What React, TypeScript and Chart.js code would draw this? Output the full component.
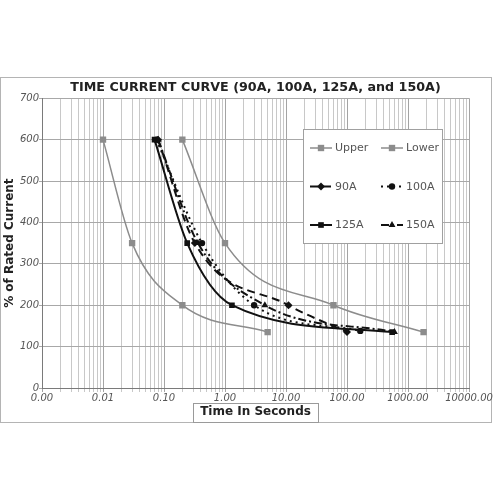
import React, { useEffect, useRef } from 'react';
import { Chart, registerables } from 'chart.js';
import { drawPoint } from 'chart.js/helpers';

Chart.register(...registerables);

// ---------- text ----------
const TITLE = 'TIME CURRENT CURVE (90A, 100A, 125A, and 150A)';
const X_TITLE = 'Time In Seconds';
const Y_TITLE = '% of Rated Current';

// ---------- data (time in seconds, % of rated current) ----------
const SERIES_NAMES = ['Upper', 'Lower', '90A', '100A', '125A', '150A'];

const upperTimes = [0.2, 1, 60, 1800];
const upperPct = [600, 350, 200, 135];

const lowerTimes = [0.01, 0.03, 0.2, 5];
const lowerPct = [600, 350, 200, 135];

const a90Times = [0.08, 0.32, 11, 100];
const a90Pct = [600, 350, 200, 135];

const a100Times = [0.075, 0.42, 3, 165];
const a100Pct = [600, 350, 200, 138];

const a125Times = [0.07, 0.24, 1.3, 550];
const a125Pct = [600, 350, 200, 135];

const a150Times = [0.08, 0.36, 4.5, 600];
const a150Pct = [600, 350, 200, 135];

// ---------- axes ----------
const X_MIN = 0.001;
const X_MAX = 10000;
const X_EXPONENTS = [-3, -2, -1, 0, 1, 2, 3];
const X_MULTIPLIERS = [1, 2, 3, 4, 5, 6, 7, 8, 9];
const Y_MIN = 0;
const Y_MAX = 700;
const Y_STEP = 100;

const GRAY = '#8c8c8c';
const BLACK = '#111111';
const FONT = 'DejaVu Sans';

const toPoints = (xs: number[], ys: number[]) => xs.map((x, i) => ({ x, y: ys[i] }));

const isDecade = (v: number) => {
  const l = Math.log10(v);
  return Math.abs(l - Math.round(l)) < 1e-9;
};

const frameAndBoxPlugin = {
  id: 'frameAndBox',
  beforeDraw(chart: any) {
    const ctx = chart.ctx;
    ctx.save();
    ctx.fillStyle = '#ffffff';
    ctx.fillRect(0, 0, chart.width, chart.height);
    ctx.strokeStyle = '#b4b4b4';
    ctx.lineWidth = 1;
    ctx.strokeRect(0.5, 77.5, 491, 345);
    ctx.restore();
  },
  afterDraw(chart: any) {
    const ctx = chart.ctx;
    const xs = chart.scales.x;
    ctx.save();
    ctx.font = `bold 12px "${FONT}"`;
    const w = ctx.measureText(X_TITLE).width;
    const cx = (xs.left + xs.right) / 2;
    ctx.strokeStyle = '#9a9a9a';
    ctx.lineWidth = 1;
    ctx.strokeRect(Math.round(cx - w / 2 - 7) + 0.5, 403.5, Math.round(w + 14), 19);
    ctx.restore();
  },
};

const legendPlugin = {
  id: 'boxLegend',
  afterDatasetsDraw(chart: any) {
    const ctx = chart.ctx;
    const bx = 303, by = 129, bw = 139, bh = 114;
    ctx.save();
    ctx.fillStyle = '#ffffff';
    ctx.fillRect(bx, by, bw, bh);
    ctx.strokeStyle = '#a0a0a0';
    ctx.lineWidth = 1;
    ctx.strokeRect(bx + 0.5, by + 0.5, bw, bh);
    chart.data.datasets.forEach((ds: any, i: number) => {
      const col = i % 2;
      const row = Math.floor(i / 2);
      const x0 = 310 + col * 71;
      const y0 = 148 + row * 38.5;
      ctx.save();
      ctx.strokeStyle = ds.borderColor;
      ctx.lineWidth = ds.borderWidth;
      ctx.setLineDash(ds.borderDash || []);
      ctx.beginPath();
      ctx.moveTo(x0, y0);
      ctx.lineTo(x0 + 22, y0);
      ctx.stroke();
      ctx.setLineDash([]);
      ctx.fillStyle = ds.pointBackgroundColor;
      ctx.strokeStyle = ds.pointBorderColor;
      drawPoint(ctx, { pointStyle: ds.pointStyle, radius: ds.pointRadius, rotation: 0, borderWidth: 0 } as any, x0 + 11, y0);
      ctx.restore();
      ctx.fillStyle = '#555555';
      ctx.font = `11px "${FONT}"`;
      ctx.textBaseline = 'middle';
      ctx.textAlign = 'left';
      ctx.fillText(ds.label, x0 + 25, y0 + 0.5);
    });
    ctx.restore();
  },
};

function makeDataset(label: string, xs: number[], ys: number[], color: string, width: number, dash: number[], style: string, radius: number) {
  return {
    label,
    data: toPoints(xs, ys),
    borderColor: color,
    backgroundColor: color,
    borderWidth: width,
    borderDash: dash,
    pointStyle: style,
    pointRadius: radius,
    pointHoverRadius: radius,
    pointBackgroundColor: color,
    pointBorderColor: color,
    pointBorderWidth: 0,
    tension: 0.4,
    cubicInterpolationMode: 'monotone',
    fill: false,
  };
}

export default function App() {
  const canvasRef = useRef<HTMLCanvasElement | null>(null);

  useEffect(() => {
    if (!canvasRef.current) return;
    const datasets = [
      makeDataset(SERIES_NAMES[0], upperTimes, upperPct, GRAY, 1.5, [], 'rect', 4.5),
      makeDataset(SERIES_NAMES[1], lowerTimes, lowerPct, GRAY, 1.5, [], 'rect', 4.5),
      makeDataset(SERIES_NAMES[2], a90Times, a90Pct, BLACK, 2, [8, 5], 'rectRot', 4),
      makeDataset(SERIES_NAMES[3], a100Times, a100Pct, BLACK, 2, [2, 4], 'circle', 3.2),
      makeDataset(SERIES_NAMES[4], a125Times, a125Pct, BLACK, 2, [], 'rect', 4),
      makeDataset(SERIES_NAMES[5], a150Times, a150Pct, BLACK, 2, [8, 3, 2, 3], 'triangle', 4),
    ];

    const chart = new Chart(canvasRef.current, {
      type: 'line',
      data: { datasets },
      plugins: [frameAndBoxPlugin, legendPlugin],
      options: {
        responsive: false,
        animation: false,
        layout: { padding: { top: 77, left: 0, right: 31, bottom: 76 } },
        plugins: {
          legend: { display: false },
          tooltip: { enabled: false },
          title: {
            display: true,
            text: TITLE,
            fullSize: false,
            color: '#222222',
            font: { family: FONT, size: 12.7, weight: 'bold', lineHeight: 1.2 },
            padding: { top: 3, bottom: 3 },
          },
        },
        scales: {
          x: {
            type: 'logarithmic',
            min: X_MIN,
            max: X_MAX,
            afterBuildTicks: (scale: any) => {
              const ticks: any[] = [];
              X_EXPONENTS.forEach((e) => {
                X_MULTIPLIERS.forEach((m) => {
                  ticks.push({ value: Number((m * Math.pow(10, e)).toPrecision(6)) });
                });
              });
              ticks.push({ value: X_MAX });
              scale.ticks = ticks;
            },
            afterFit: (scale: any) => {
              scale.height = 36;
            },
            ticks: {
              autoSkip: false,
              maxRotation: 0,
              minRotation: 0,
              padding: 0,
              color: '#555555',
              font: { family: FONT, size: 10, style: 'italic' },
              callback: (v: any) => (isDecade(Number(v)) ? Number(v).toFixed(2) : ''),
            },
            grid: {
              color: (c: any) => (c.tick && isDecade(c.tick.value) ? '#a4a4a4' : '#c8c8c8'),
              tickLength: 4,
              lineWidth: 1,
            },
            border: { color: '#7a7a7a' },
            title: {
              display: true,
              text: X_TITLE,
              color: '#222222',
              font: { family: FONT, size: 12, weight: 'bold', lineHeight: 1.2 },
              padding: { top: 0, bottom: 5 },
            },
          },
          y: {
            type: 'linear',
            min: Y_MIN,
            max: Y_MAX,
            afterFit: (scale: any) => {
              scale.width = 42;
            },
            ticks: {
              stepSize: Y_STEP,
              padding: 0,
              color: '#555555',
              font: { family: FONT, size: 10, style: 'italic' },
            },
            grid: { color: '#a8a8a8', tickLength: 3, lineWidth: 1 },
            border: { color: '#7a7a7a' },
            title: {
              display: true,
              text: Y_TITLE,
              color: '#222222',
              font: { family: FONT, size: 12, weight: 'bold', lineHeight: 1.2 },
              padding: { top: 3, bottom: 0 },
            },
          },
        },
      } as any,
    });
    return () => chart.destroy();
  }, []);

  return (
    <div style={{ position: 'fixed', left: 0, top: 0, width: 500, height: 500, background: '#fff' }}>
      <canvas ref={canvasRef} width={500} height={500} style={{ display: 'block' }} />
    </div>
  );
}
